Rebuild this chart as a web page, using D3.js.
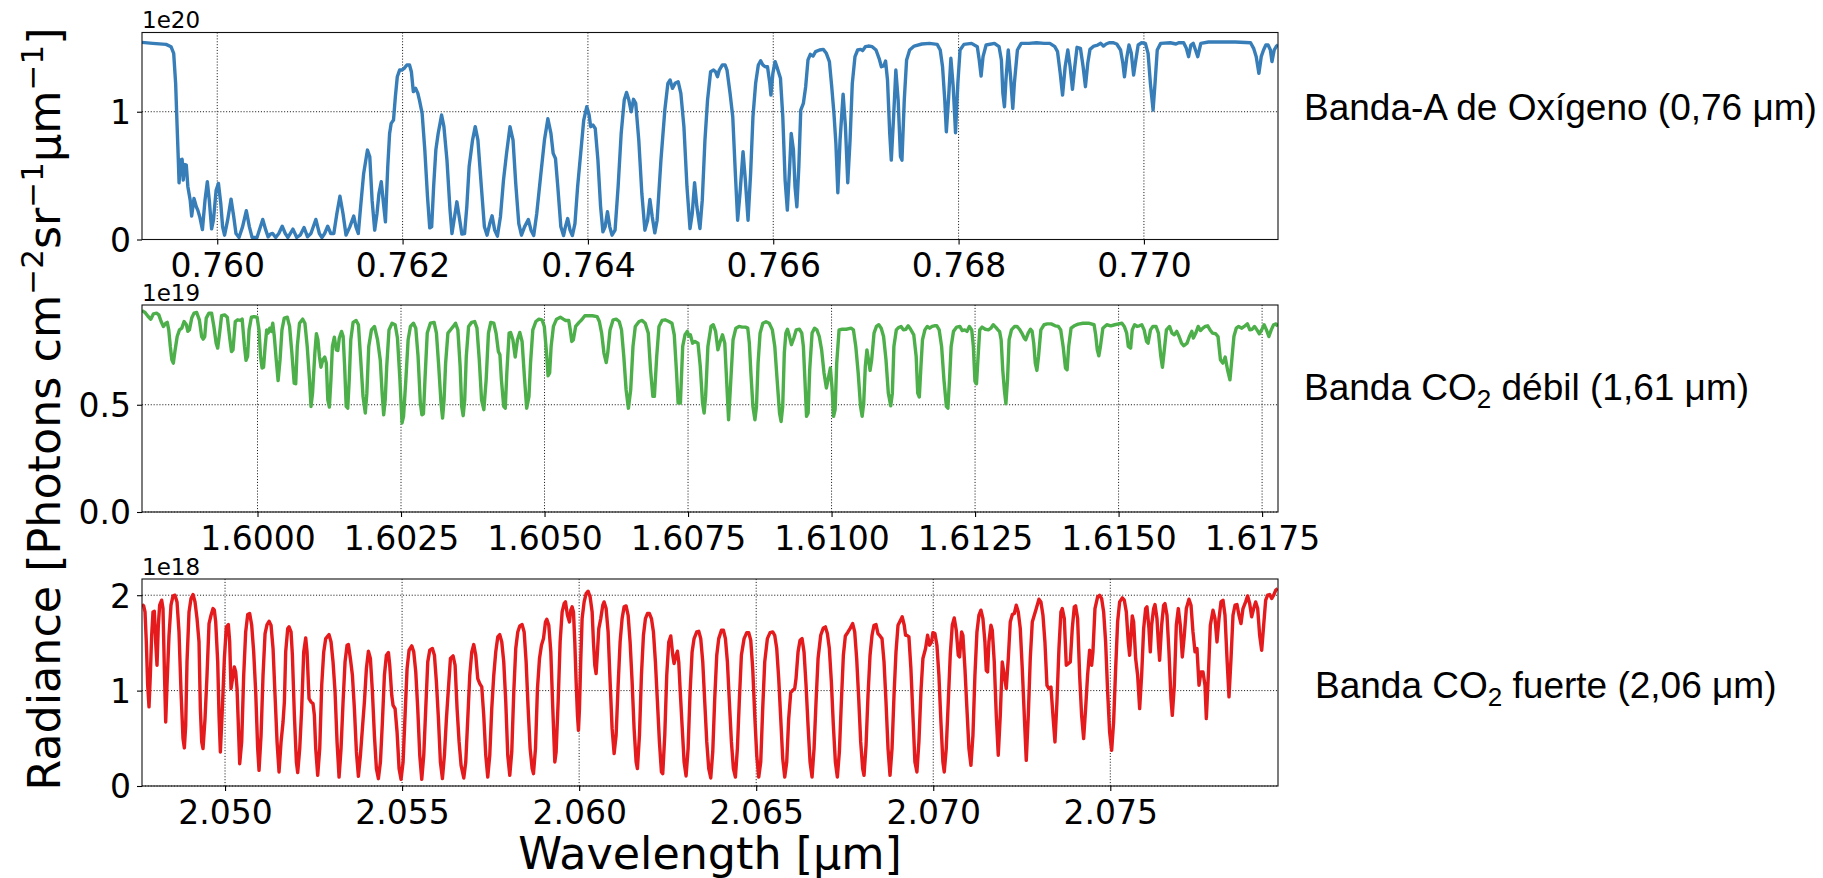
<!DOCTYPE html>
<html>
<head>
<meta charset="utf-8">
<script src="https://cdn.jsdelivr.net/npm/d3@7"></script>
<style>
  body { margin: 0; background: #fff; }
</style>
</head>
<body>
<script>
// Spectra: [wavelength (µm), radiance in units of the axis offset]
// O2 A-band, radiance x 1e20
var o2Band = [
[0.759188,1.543],[0.759303,1.535],[0.759448,1.527],[0.759501,1.509],[0.759530,1.457],[0.759551,1.222],[0.759567,0.883],[0.759580,0.621],[0.759588,0.444],[0.759604,0.621],
[0.759621,0.627],[0.759633,0.465],[0.759650,0.587],[0.759666,0.582],[0.759683,0.413],[0.759708,0.308],[0.759724,0.183],[0.759749,0.321],[0.759774,0.256],[0.759790,0.230],
[0.759811,0.178],[0.759840,0.078],[0.759868,0.308],[0.759893,0.452],[0.759914,0.308],[0.759939,0.084],[0.759959,0.151],[0.759988,0.386],[0.760013,0.439],[0.760038,0.282],
[0.760058,0.099],[0.760079,0.034],[0.760112,0.151],[0.760149,0.316],[0.760178,0.178],[0.760202,0.047],[0.760235,0.016],[0.760273,0.099],[0.760314,0.225],[0.760347,0.099],
[0.760376,0.016],[0.760429,0.016],[0.760491,0.157],[0.760524,0.073],[0.760549,0.021],[0.760574,0.042],[0.760598,0.047],[0.760631,0.016],[0.760664,0.047],[0.760701,0.104],
[0.760734,0.047],[0.760763,0.016],[0.760817,0.081],[0.760858,0.016],[0.760895,0.034],[0.760937,0.094],[0.760974,0.021],[0.761011,0.047],[0.761064,0.157],[0.761102,0.047],
[0.761130,0.016],[0.761159,0.047],[0.761192,0.104],[0.761225,0.047],[0.761258,0.047],[0.761291,0.204],[0.761324,0.339],[0.761357,0.204],[0.761390,0.034],[0.761431,0.099],
[0.761473,0.183],[0.761497,0.099],[0.761522,0.047],[0.761547,0.256],[0.761580,0.517],[0.761621,0.700],[0.761646,0.648],[0.761671,0.308],[0.761699,0.073],[0.761724,0.204],
[0.761745,0.360],[0.761770,0.452],[0.761794,0.282],[0.761815,0.138],[0.761840,0.569],[0.761860,0.830],[0.761877,0.909],[0.761902,0.935],[0.761922,1.117],[0.761943,1.274],
[0.761968,1.326],[0.761992,1.326],[0.762017,1.339],[0.762046,1.366],[0.762075,1.366],[0.762095,1.313],[0.762116,1.157],[0.762141,1.183],[0.762165,1.144],[0.762182,1.091],
[0.762211,0.987],[0.762240,0.700],[0.762269,0.334],[0.762293,0.091],[0.762314,0.099],[0.762335,0.413],[0.762359,0.700],[0.762384,0.830],[0.762421,0.974],[0.762446,0.883],
[0.762479,0.621],[0.762512,0.230],[0.762533,0.047],[0.762561,0.178],[0.762586,0.295],[0.762611,0.178],[0.762640,0.042],[0.762669,0.047],[0.762693,0.256],[0.762718,0.569],
[0.762755,0.778],[0.762784,0.883],[0.762813,0.778],[0.762850,0.413],[0.762883,0.099],[0.762912,0.034],[0.762941,0.125],[0.762966,0.185],[0.762994,0.073],[0.763023,0.026],
[0.763056,0.178],[0.763089,0.465],[0.763122,0.674],[0.763159,0.883],[0.763192,0.778],[0.763221,0.439],[0.763254,0.125],[0.763283,0.034],[0.763316,0.099],[0.763357,0.157],
[0.763386,0.073],[0.763415,0.031],[0.763448,0.204],[0.763489,0.491],[0.763531,0.778],[0.763568,0.945],[0.763601,0.830],[0.763625,0.674],[0.763650,0.634],[0.763675,0.413],
[0.763708,0.099],[0.763737,0.031],[0.763757,0.099],[0.763782,0.164],[0.763807,0.073],[0.763832,0.031],[0.763860,0.125],[0.763889,0.413],[0.763922,0.674],[0.763955,0.935],
[0.763988,1.039],[0.764013,0.974],[0.764030,0.883],[0.764054,0.896],[0.764079,0.869],[0.764108,0.621],[0.764137,0.256],[0.764162,0.060],[0.764186,0.099],[0.764211,0.217],
[0.764236,0.099],[0.764260,0.034],[0.764293,0.073],[0.764326,0.413],[0.764359,0.830],[0.764392,1.091],[0.764417,1.151],[0.764442,1.091],[0.764467,1.000],[0.764492,1.097],
[0.764516,1.065],[0.764549,0.778],[0.764582,0.360],[0.764615,0.073],[0.764644,0.151],[0.764669,0.313],[0.764694,0.178],[0.764722,0.052],[0.764747,0.151],[0.764788,0.621],
[0.764830,1.013],[0.764863,1.222],[0.764887,1.248],[0.764912,1.183],[0.764941,1.222],[0.764974,1.235],[0.765003,1.144],[0.765036,0.883],[0.765069,0.413],[0.765102,0.086],
[0.765126,0.204],[0.765151,0.444],[0.765176,0.256],[0.765209,0.086],[0.765234,0.308],[0.765263,0.778],[0.765291,1.091],[0.765324,1.313],
[0.765356,1.326],[0.765377,1.313],[0.765398,1.274],[0.765418,1.326],[0.765451,1.366],[0.765480,1.366],[0.765501,1.326],[0.765534,1.144],[0.765563,0.961],[0.765591,0.517],
[0.765616,0.151],[0.765641,0.360],[0.765674,0.687],[0.765699,0.465],[0.765728,0.151],[0.765756,0.517],[0.765781,0.961],[0.765810,1.222],[0.765839,1.366],[0.765864,1.399],
[0.765888,1.366],[0.765913,1.352],[0.765938,1.352],[0.765963,1.222],[0.765975,1.131],[0.765996,1.300],[0.766020,1.392],[0.766045,1.339],[0.766078,1.261],[0.766103,0.961],
[0.766128,0.465],[0.766152,0.230],[0.766177,0.569],[0.766194,0.830],[0.766218,0.700],[0.766235,0.413],[0.766255,0.256],[0.766276,0.569],[0.766297,1.013],[0.766325,1.065],
[0.766350,1.196],[0.766375,1.405],[0.766400,1.449],[0.766429,1.436],[0.766457,1.470],[0.766499,1.483],[0.766540,1.488],[0.766573,1.457],[0.766606,1.392],[0.766631,1.196],
[0.766655,0.987],[0.766676,0.752],[0.766697,0.366],[0.766721,0.778],[0.766754,1.138],[0.766779,0.883],[0.766804,0.444],[0.766829,0.778],[0.766853,1.222],[0.766882,1.431],
[0.766911,1.483],[0.766944,1.488],[0.766965,1.478],[0.766994,1.509],[0.767027,1.514],[0.767068,1.509],[0.767109,1.483],[0.767142,1.418],[0.767167,1.352],[0.767192,1.358],
[0.767212,1.397],[0.767233,1.248],[0.767257,0.830],[0.767274,0.621],[0.767299,0.961],[0.767323,1.326],[0.767348,1.091],[0.767373,0.648],[0.767389,0.621],[0.767414,1.091],
[0.767439,1.405],[0.767472,1.483],[0.767521,1.514],[0.767604,1.530],[0.767686,1.535],[0.767769,1.527],[0.767802,1.483],[0.767827,1.352],[0.767851,1.091],[0.767868,0.843],
[0.767893,1.117],[0.767917,1.418],[0.767942,1.196],[0.767967,0.836],[0.767992,1.222],[0.768016,1.483],[0.768058,1.527],[0.768140,1.535],[0.768202,1.509],[0.768223,1.405],
[0.768243,1.279],[0.768264,1.431],[0.768297,1.522],[0.768387,1.535],[0.768437,1.509],[0.768462,1.405],[0.768478,1.144],[0.768495,1.039],[0.768511,1.248],[0.768536,1.483],
[0.768561,1.274],[0.768585,1.026],[0.768602,1.222],[0.768635,1.483],[0.768676,1.535],[0.768759,1.535],[0.768841,1.540],[0.768924,1.535],[0.768985,1.535],[0.769039,1.509],
[0.769068,1.470],[0.769097,1.300],[0.769122,1.131],[0.769150,1.352],[0.769179,1.483],[0.769204,1.352],[0.769229,1.175],[0.769254,1.352],[0.769278,1.504],[0.769315,1.496],
[0.769344,1.352],[0.769369,1.196],[0.769394,1.379],[0.769418,1.488],[0.769460,1.514],[0.769501,1.522],[0.769534,1.535],[0.769563,1.514],[0.769592,1.530],[0.769625,1.540],
[0.769666,1.540],[0.769707,1.530],[0.769748,1.483],[0.769773,1.379],[0.769790,1.274],[0.769814,1.418],[0.769839,1.522],[0.769864,1.457],[0.769889,1.287],[0.769913,1.405],
[0.769938,1.522],[0.769975,1.540],[0.770016,1.535],[0.770045,1.457],[0.770070,1.222],[0.770099,1.013],[0.770120,1.222],[0.770144,1.483],[0.770181,1.535],[0.770285,1.540],
[0.770346,1.530],[0.770375,1.540],[0.770429,1.540],[0.770458,1.496],[0.770482,1.431],[0.770507,1.522],[0.770532,1.535],[0.770557,1.483],[0.770581,1.431],[0.770614,1.535],
[0.770697,1.546],[0.770821,1.546],[0.770986,1.546],[0.771151,1.540],[0.771184,1.496],[0.771212,1.431],[0.771241,1.300],[0.771266,1.431],[0.771291,1.483],[0.771316,1.522],
[0.771340,1.522],[0.771365,1.483],[0.771382,1.392],[0.771406,1.483],[0.771431,1.514],[0.771447,1.522]
];

// weak CO2 band, radiance x 1e19
var co2WeakBand = [
[1.597988,0.939],[1.598041,0.930],[1.598095,0.911],[1.598141,0.899],[1.598188,0.924],[1.598241,0.927],[1.598281,0.919],[1.598321,0.888],[1.598361,0.865],[1.598401,0.880],
[1.598428,0.884],[1.598454,0.849],[1.598481,0.772],[1.598508,0.710],[1.598534,0.694],[1.598561,0.748],[1.598601,0.818],[1.598641,0.849],[1.598681,0.857],[1.598721,0.888],
[1.598761,0.873],[1.598787,0.842],[1.598814,0.849],[1.598854,0.904],[1.598894,0.927],[1.598941,0.930],[1.598987,0.896],[1.599027,0.818],[1.599054,0.806],[1.599081,0.818],
[1.599107,0.904],[1.599154,0.927],[1.599200,0.927],[1.599240,0.865],[1.599280,0.787],[1.599307,0.764],[1.599340,0.834],[1.599374,0.915],[1.599427,0.919],[1.599474,0.908],
[1.599520,0.803],[1.599547,0.748],[1.599573,0.756],[1.599613,0.888],[1.599653,0.896],[1.599707,0.893],[1.599733,0.899],[1.599773,0.772],[1.599800,0.707],[1.599827,0.725],
[1.599853,0.849],[1.599893,0.908],[1.599940,0.911],[1.599993,0.908],[1.600026,0.849],[1.600053,0.725],[1.600080,0.671],[1.600106,0.675],[1.600133,0.772],[1.600160,0.849],
[1.600186,0.834],[1.600213,0.857],[1.600240,0.842],[1.600266,0.880],[1.600293,0.818],[1.600326,0.710],[1.600359,0.613],[1.600393,0.710],[1.600426,0.849],[1.600466,0.904],
[1.600519,0.908],[1.600559,0.865],[1.600599,0.741],[1.600639,0.601],[1.600666,0.598],[1.600693,0.772],[1.600732,0.880],[1.600786,0.899],[1.600826,0.880],[1.600866,0.772],
[1.600906,0.616],[1.600932,0.492],[1.600959,0.554],[1.600999,0.741],[1.601026,0.831],[1.601052,0.803],[1.601079,0.725],[1.601106,0.675],[1.601139,0.710],[1.601172,0.722],
[1.601199,0.694],[1.601225,0.523],[1.601252,0.489],[1.601279,0.616],[1.601305,0.772],[1.601339,0.815],[1.601372,0.756],[1.601399,0.753],[1.601425,0.811],[1.601465,0.842],
[1.601492,0.818],[1.601518,0.679],[1.601545,0.492],[1.601572,0.484],[1.601598,0.616],[1.601625,0.803],[1.601665,0.884],[1.601718,0.893],[1.601758,0.873],[1.601798,0.710],
[1.601838,0.539],[1.601878,0.461],[1.601905,0.554],[1.601938,0.772],[1.601985,0.849],[1.602038,0.865],[1.602091,0.803],[1.602138,0.710],[1.602171,0.554],[1.602198,0.453],
[1.602225,0.523],[1.602251,0.679],[1.602291,0.849],[1.602344,0.880],[1.602398,0.873],[1.602438,0.811],[1.602478,0.632],[1.602518,0.415],[1.602544,0.446],[1.602584,0.616],
[1.602624,0.803],[1.602664,0.865],[1.602717,0.880],[1.602757,0.857],[1.602797,0.725],[1.602837,0.508],[1.602864,0.453],[1.602891,0.458],[1.602917,0.616],[1.602957,0.834],
[1.603011,0.880],[1.603077,0.884],[1.603117,0.834],[1.603157,0.679],[1.603197,0.508],[1.603224,0.438],[1.603250,0.523],[1.603277,0.694],[1.603317,0.834],[1.603370,0.852],
[1.603410,0.865],[1.603450,0.880],[1.603490,0.849],[1.603530,0.679],[1.603557,0.492],[1.603583,0.449],[1.603610,0.523],[1.603637,0.725],[1.603677,0.865],[1.603730,0.884],
[1.603783,0.888],[1.603823,0.857],[1.603863,0.710],[1.603903,0.523],[1.603943,0.477],[1.603983,0.616],[1.604023,0.834],[1.604063,0.884],[1.604116,0.880],[1.604156,0.834],
[1.604196,0.748],[1.604223,0.733],[1.604249,0.616],[1.604289,0.492],[1.604316,0.484],[1.604343,0.648],[1.604383,0.834],[1.604409,0.837],[1.604449,0.803],[1.604489,0.722],
[1.604529,0.803],[1.604569,0.837],[1.604609,0.795],[1.604649,0.632],[1.604689,0.484],[1.604729,0.539],[1.604756,0.694],[1.604796,0.849],[1.604849,0.888],[1.604902,0.899],
[1.604956,0.896],[1.604996,0.865],[1.605035,0.741],[1.605062,0.635],[1.605089,0.648],[1.605115,0.772],[1.605155,0.865],[1.605209,0.899],[1.605275,0.908],[1.605329,0.899],
[1.605369,0.893],[1.605422,0.893],[1.605448,0.849],[1.605475,0.795],[1.605502,0.803],[1.605542,0.865],[1.605602,0.884],[1.605648,0.896],[1.605702,0.915],[1.605768,0.915],
[1.605835,0.915],[1.605915,0.911],[1.605955,0.888],[1.605995,0.834],[1.606035,0.741],[1.606075,0.697],[1.606101,0.741],[1.606141,0.849],[1.606195,0.896],[1.606248,0.899],
[1.606301,0.888],[1.606341,0.849],[1.606381,0.725],[1.606421,0.570],[1.606461,0.484],[1.606501,0.570],[1.606541,0.772],[1.606581,0.865],[1.606647,0.888],[1.606701,0.893],
[1.606754,0.880],[1.606807,0.834],[1.606847,0.663],[1.606887,0.539],[1.606914,0.539],[1.606954,0.725],[1.606994,0.865],[1.607047,0.893],[1.607100,0.896],[1.607167,0.888],
[1.607220,0.880],[1.607260,0.826],[1.607300,0.648],[1.607327,0.508],[1.607367,0.508],[1.607407,0.772],[1.607447,0.826],[1.607487,0.842],[1.607513,0.821],[1.607540,0.826],
[1.607580,0.787],[1.607620,0.795],[1.607673,0.787],[1.607713,0.679],[1.607753,0.508],[1.607780,0.461],[1.607806,0.539],[1.607846,0.772],[1.607900,0.865],[1.607940,0.873],
[1.607980,0.842],[1.608020,0.756],[1.608060,0.795],[1.608100,0.826],[1.608140,0.787],[1.608180,0.570],[1.608206,0.430],
[1.608236,0.570],[1.608284,0.803],[1.608333,0.857],[1.608388,0.865],[1.608443,0.862],[1.608499,0.862],[1.608540,0.857],[1.608568,0.787],[1.608595,0.648],[1.608630,0.492],
[1.608665,0.430],[1.608692,0.492],[1.608720,0.694],[1.608755,0.834],[1.608803,0.880],[1.608858,0.887],[1.608914,0.880],[1.608969,0.849],[1.609011,0.772],[1.609052,0.616],
[1.609094,0.461],[1.609121,0.422],[1.609149,0.492],[1.609177,0.741],[1.609204,0.834],[1.609232,0.852],[1.609260,0.826],[1.609301,0.780],[1.609343,0.811],[1.609384,0.849],
[1.609440,0.852],[1.609481,0.834],[1.609509,0.772],[1.609536,0.616],[1.609564,0.446],[1.609592,0.461],[1.609619,0.663],[1.609661,0.834],[1.609703,0.857],[1.609744,0.849],
[1.609786,0.818],[1.609827,0.756],[1.609869,0.648],[1.609910,0.578],[1.609938,0.616],[1.609979,0.671],[1.610007,0.585],[1.610035,0.446],[1.610062,0.477],[1.610090,0.694],
[1.610131,0.849],[1.610187,0.852],[1.610256,0.852],[1.610339,0.857],[1.610381,0.849],[1.610422,0.772],[1.610464,0.648],[1.610505,0.492],[1.610533,0.446],[1.610560,0.508],
[1.610588,0.679],[1.610616,0.756],[1.610643,0.710],[1.610671,0.660],[1.610699,0.710],[1.610740,0.834],[1.610782,0.865],[1.610823,0.873],[1.610865,0.857],[1.610906,0.818],
[1.610948,0.710],[1.610989,0.554],[1.611031,0.495],[1.611059,0.554],[1.611086,0.772],[1.611128,0.849],[1.611169,0.860],[1.611211,0.865],[1.611252,0.849],[1.611294,0.852],
[1.611335,0.868],[1.611377,0.852],[1.611432,0.826],[1.611474,0.725],[1.611501,0.554],[1.611529,0.536],[1.611557,0.679],[1.611584,0.803],[1.611626,0.849],[1.611667,0.865],
[1.611709,0.857],[1.611751,0.865],[1.611792,0.868],[1.611834,0.868],[1.611875,0.849],[1.611917,0.772],[1.611958,0.616],[1.612000,0.492],[1.612027,0.484],[1.612055,0.616],
[1.612083,0.772],[1.612124,0.842],[1.612180,0.862],[1.612235,0.865],[1.612276,0.846],[1.612318,0.849],[1.612359,0.842],[1.612401,0.865],[1.612442,0.849],[1.612470,0.772],
[1.612498,0.609],[1.612525,0.598],[1.612553,0.725],[1.612581,0.849],[1.612622,0.862],[1.612678,0.852],[1.612733,0.849],[1.612775,0.857],[1.612816,0.873],[1.612858,0.862],
[1.612899,0.849],[1.612927,0.842],[1.612954,0.803],[1.612982,0.663],[1.613010,0.570],[1.613037,0.505],[1.613065,0.616],[1.613093,0.803],[1.613134,0.849],[1.613190,0.865],
[1.613231,0.865],[1.613273,0.852],[1.613314,0.834],[1.613356,0.811],[1.613383,0.803],[1.613425,0.834],[1.613466,0.852],[1.613494,0.842],[1.613522,0.787],[1.613549,0.694],
[1.613577,0.660],[1.613605,0.725],[1.613646,0.849],[1.613702,0.873],[1.613757,0.877],[1.613826,0.877],[1.613895,0.868],[1.613951,0.865],[1.613992,0.849],[1.614034,0.772],
[1.614075,0.671],[1.614103,0.663],[1.614131,0.772],[1.614172,0.857],[1.614227,0.868],[1.614297,0.876],[1.614380,0.880],[1.614477,0.880],[1.614573,0.873],[1.614601,0.826],
[1.614629,0.756],[1.614656,0.728],[1.614684,0.772],[1.614726,0.857],[1.614795,0.873],[1.614864,0.868],[1.614933,0.873],[1.615002,0.877],[1.615058,0.880],[1.615099,0.865],
[1.615141,0.834],[1.615169,0.772],[1.615210,0.764],[1.615238,0.849],[1.615279,0.873],[1.615321,0.865],[1.615362,0.868],[1.615404,0.873],[1.615445,0.849],[1.615487,0.795],
[1.615514,0.787],[1.615556,0.849],[1.615597,0.865],[1.615653,0.865],[1.615694,0.834],[1.615736,0.725],[1.615764,0.675],[1.615791,0.741],[1.615833,0.849],[1.615888,0.865],
[1.615930,0.834],[1.615971,0.826],[1.616013,0.842],[1.616054,0.818],[1.616096,0.787],[1.616137,0.775],[1.616193,0.787],[1.616234,0.818],[1.616276,0.842],[1.616303,0.811],
[1.616345,0.834],[1.616386,0.865],[1.616428,0.846],[1.616469,0.857],[1.616511,0.865],[1.616552,0.868],[1.616594,0.849],[1.616635,0.834],[1.616691,0.831],[1.616732,0.818],
[1.616774,0.710],[1.616815,0.694],[1.616857,0.722],[1.616898,0.663],[1.616940,0.616],[1.616967,0.694],[1.617009,0.818],[1.617050,0.857],[1.617092,0.865],[1.617147,0.857],
[1.617189,0.865],[1.617244,0.877],[1.617286,0.849],[1.617327,0.852],[1.617369,0.865],[1.617410,0.849],[1.617452,0.831],[1.617493,0.849],[1.617535,0.873],[1.617576,0.849],
[1.617618,0.818],[1.617659,0.849],[1.617701,0.873],[1.617742,0.877],[1.617770,0.865]
];

// strong CO2 band, radiance x 1e18
var co2StrongBand = [
[2.047655,1.902],[2.047702,1.888],[2.047740,1.825],[2.047777,1.510],[2.047815,1.056],[2.047853,0.829],[2.047890,1.161],[2.047928,1.580],[2.047966,1.825],[2.048003,1.832],
[2.048041,1.510],[2.048079,1.266],[2.048116,1.685],[2.048154,1.895],[2.048211,1.948],[2.048248,1.860],[2.048286,1.231],[2.048324,0.671],[2.048361,1.056],[2.048418,1.580],
[2.048474,1.895],[2.048531,1.993],[2.048587,2.000],[2.048644,1.930],[2.048700,1.615],[2.048757,0.986],[2.048813,0.497],[2.048851,0.399],[2.048889,0.636],[2.048926,1.301],
[2.048983,1.825],[2.049039,1.965],[2.049096,2.007],[2.049152,1.930],[2.049209,1.755],[2.049265,1.510],[2.049303,0.811],[2.049341,0.462],[2.049378,0.392],[2.049435,0.706],
[2.049491,1.161],[2.049548,1.703],[2.049604,1.790],[2.049661,1.860],[2.049698,1.843],[2.049736,1.720],[2.049793,1.301],[2.049830,0.741],[2.049868,0.357],[2.049924,0.811],
[2.049981,1.336],[2.050037,1.668],[2.050094,1.692],[2.050131,1.510],[2.050169,1.021],[2.050226,1.161],[2.050263,1.248],[2.050301,1.196],[2.050339,1.021],[2.050376,0.636],
[2.050414,0.234],[2.050470,0.462],[2.050527,1.161],[2.050583,1.615],[2.050640,1.797],[2.050696,1.808],[2.050753,1.685],[2.050809,1.406],[2.050866,0.986],[2.050922,0.392],
[2.050960,0.164],[2.051017,0.531],[2.051073,1.161],[2.051130,1.598],[2.051186,1.692],[2.051243,1.727],[2.051299,1.685],[2.051356,1.441],[2.051412,0.951],[2.051469,0.462],
[2.051525,0.147],[2.051582,0.462],[2.051638,0.671],[2.051676,0.881],[2.051713,1.406],[2.051770,1.650],[2.051808,1.668],[2.051864,1.615],[2.051902,1.371],[2.051958,0.741],
[2.052015,0.252],[2.052052,0.140],[2.052109,0.392],[2.052165,0.811],[2.052222,1.406],[2.052278,1.552],[2.052316,1.406],[2.052372,0.916],[2.052429,0.881],[2.052485,0.864],
[2.052523,0.741],[2.052561,0.392],[2.052617,0.112],[2.052674,0.392],[2.052730,1.056],[2.052787,1.406],[2.052843,1.545],[2.052937,1.587],[2.052994,1.510],[2.053050,1.301],
[2.053107,0.986],[2.053163,0.462],[2.053220,0.094],[2.053276,0.392],[2.053333,0.881],[2.053389,1.301],[2.053446,1.476],[2.053484,1.483],[2.053540,1.336],[2.053597,1.161],
[2.053653,0.811],[2.053710,0.357],[2.053766,0.101],[2.053823,0.322],[2.053879,0.601],[2.053936,0.881],[2.053992,1.231],[2.054049,1.413],[2.054105,1.336],[2.054162,0.986],
[2.054218,0.531],[2.054275,0.182],[2.054331,0.077],[2.054388,0.252],[2.054444,0.671],[2.054501,1.161],[2.054557,1.371],[2.054614,1.399],[2.054651,1.266],[2.054708,0.951],
[2.054745,0.846],[2.054802,0.811],[2.054858,0.566],[2.054915,0.182],[2.054971,0.070],[2.055028,0.252],[2.055084,0.741],[2.055141,1.231],[2.055197,1.423],[2.055273,1.469],
[2.055329,1.406],[2.055386,1.196],[2.055442,0.811],[2.055499,0.322],[2.055555,0.070],[2.055612,0.322],[2.055668,0.811],[2.055725,1.301],[2.055781,1.423],[2.055856,1.441],
[2.055913,1.371],[2.055969,1.091],[2.056026,0.706],[2.056082,0.252],[2.056139,0.077],[2.056195,0.322],[2.056252,0.706],[2.056308,1.021],[2.056365,1.336],[2.056440,1.364],
[2.056497,1.266],[2.056553,0.811],[2.056610,0.462],[2.056666,0.217],[2.056742,0.084],[2.056798,0.252],[2.056855,0.706],[2.056911,1.161],[2.056968,1.406],[2.057024,1.483],
[2.057080,1.371],[2.057137,1.126],[2.057193,1.073],[2.057250,1.038],[2.057306,0.741],[2.057363,0.322],[2.057419,0.094],[2.057476,0.322],[2.057532,0.811],[2.057589,1.161],
[2.057645,1.406],[2.057702,1.563],[2.057758,1.587],[2.057815,1.510],[2.057871,1.301],[2.057928,0.881],[2.057984,0.322],[2.058041,0.112],[2.058097,0.357],[2.058154,0.986],
[2.058210,1.441],[2.058267,1.615],[2.058323,1.678],
[2.058390,1.692],[2.058447,1.615],[2.058503,1.301],[2.058560,0.811],[2.058616,0.392],[2.058673,0.182],[2.058710,0.129],[2.058767,0.392],[2.058823,1.021],[2.058880,1.336],
[2.058936,1.476],[2.058993,1.545],[2.059049,1.720],[2.059087,1.748],[2.059143,1.685],[2.059200,1.406],[2.059256,0.811],[2.059313,0.252],[2.059350,0.357],[2.059407,0.881],
[2.059463,1.510],[2.059520,1.825],[2.059576,1.913],[2.059614,1.930],[2.059670,1.790],[2.059727,1.720],[2.059764,1.843],[2.059802,1.878],[2.059840,1.825],[2.059877,1.510],
[2.059915,1.091],[2.059953,0.741],[2.059981,0.584],[2.060009,0.811],[2.060047,1.336],[2.060084,1.755],[2.060141,1.930],[2.060197,2.017],[2.060254,2.042],[2.060310,1.983],
[2.060367,1.825],[2.060404,1.510],[2.060442,1.266],[2.060479,1.178],[2.060517,1.406],[2.060555,1.650],[2.060611,1.755],[2.060668,1.895],[2.060705,1.930],[2.060762,1.860],
[2.060818,1.615],[2.060875,1.091],[2.060931,0.601],[2.060988,0.339],[2.061044,0.531],[2.061101,1.056],[2.061157,1.510],[2.061213,1.755],[2.061270,1.878],[2.061326,1.888],
[2.061383,1.790],[2.061439,1.510],[2.061496,1.091],[2.061552,0.601],[2.061609,0.252],[2.061646,0.182],[2.061703,0.531],[2.061759,1.161],[2.061816,1.580],[2.061872,1.755],
[2.061929,1.808],[2.061985,1.808],[2.062042,1.755],[2.062098,1.615],[2.062154,1.301],[2.062211,0.881],[2.062267,0.462],[2.062324,0.147],[2.062361,0.129],[2.062418,0.531],
[2.062474,1.161],[2.062531,1.510],[2.062587,1.573],[2.062644,1.371],[2.062681,1.283],[2.062738,1.371],[2.062776,1.413],[2.062813,1.301],[2.062851,1.021],[2.062907,0.636],
[2.062964,0.252],[2.063020,0.105],[2.063077,0.392],[2.063133,0.986],[2.063190,1.406],[2.063246,1.545],[2.063321,1.615],[2.063378,1.622],[2.063434,1.545],[2.063491,1.301],
[2.063547,0.881],[2.063604,0.462],[2.063660,0.182],[2.063717,0.084],[2.063773,0.357],[2.063829,0.916],[2.063886,1.371],[2.063942,1.545],[2.064018,1.633],[2.064074,1.633],
[2.064131,1.545],[2.064187,1.301],[2.064243,0.881],[2.064300,0.462],[2.064356,0.182],[2.064413,0.094],[2.064469,0.392],[2.064526,0.916],[2.064582,1.371],[2.064658,1.545],
[2.064733,1.608],[2.064789,1.608],[2.064846,1.528],[2.064902,1.231],[2.064959,0.741],[2.065015,0.322],[2.065072,0.094],[2.065128,0.252],[2.065184,0.811],[2.065241,1.301],
[2.065316,1.545],[2.065392,1.608],[2.065467,1.615],[2.065523,1.580],[2.065580,1.441],[2.065636,1.126],[2.065693,0.706],[2.065749,0.287],[2.065806,0.094],[2.065862,0.252],
[2.065918,0.706],[2.065975,0.979],[2.066031,1.003],[2.066088,1.021],[2.066125,1.126],[2.066182,1.406],[2.066238,1.528],[2.066295,1.545],[2.066351,1.406],[2.066408,1.056],
[2.066464,0.636],[2.066521,0.252],[2.066577,0.094],[2.066634,0.392],[2.066690,0.881],[2.066747,1.336],[2.066822,1.580],[2.066897,1.657],[2.066954,1.668],[2.067010,1.598],
[2.067066,1.441],[2.067123,1.091],[2.067179,0.636],[2.067236,0.252],[2.067292,0.094],[2.067349,0.357],[2.067405,0.881],[2.067462,1.371],[2.067518,1.573],[2.067593,1.615],
[2.067650,1.650],[2.067725,1.703],[2.067782,1.615],[2.067838,1.336],[2.067895,0.916],[2.067951,0.462],[2.068007,0.182],[2.068045,0.112],[2.068102,0.427],[2.068158,0.951],
[2.068215,1.371],[2.068271,1.580],[2.068327,1.685],[2.068384,1.692],[2.068440,1.598],[2.068497,1.573],[2.068553,1.545],[2.068610,1.301],[2.068666,0.881],[2.068723,0.392],
[2.068779,0.112],[2.068836,0.392],[2.068892,0.951],[2.068948,1.406],[2.069005,1.685],
[2.069124,1.773],[2.069181,1.685],[2.069218,1.580],[2.069256,1.580],[2.069313,1.563],[2.069369,1.231],[2.069426,0.741],[2.069482,0.252],[2.069539,0.147],[2.069595,0.462],
[2.069652,0.986],[2.069708,1.336],[2.069783,1.441],[2.069840,1.580],[2.069896,1.476],[2.069953,1.510],[2.069991,1.608],[2.070047,1.598],[2.070104,1.476],[2.070160,1.161],
[2.070217,0.671],[2.070273,0.252],[2.070311,0.147],[2.070367,0.392],[2.070424,0.881],[2.070480,1.371],[2.070537,1.685],[2.070593,1.762],[2.070650,1.633],[2.070706,1.371],
[2.070744,1.353],[2.070800,1.615],[2.070838,1.580],[2.070895,1.231],[2.070951,0.811],[2.071008,0.392],[2.071064,0.217],[2.071121,0.531],[2.071177,1.161],[2.071234,1.615],
[2.071290,1.790],[2.071347,1.843],[2.071403,1.755],[2.071459,1.510],[2.071497,1.213],[2.071535,1.196],[2.071572,1.510],[2.071629,1.685],[2.071667,1.633],[2.071723,1.301],
[2.071780,0.741],[2.071836,0.322],[2.071893,0.741],[2.071949,1.301],[2.072006,1.161],[2.072062,1.021],[2.072119,1.336],[2.072175,1.720],[2.072232,1.797],[2.072288,1.808],
[2.072345,1.895],[2.072401,1.825],[2.072458,1.650],[2.072514,1.231],[2.072571,0.741],[2.072627,0.269],[2.072684,0.741],[2.072740,1.336],[2.072797,1.720],[2.072853,1.790],
[2.072910,1.860],[2.072985,1.958],[2.073041,1.930],[2.073098,1.790],[2.073154,1.510],[2.073211,1.056],[2.073267,1.021],[2.073324,1.038],[2.073380,0.741],[2.073437,0.462],
[2.073493,0.881],[2.073550,1.441],[2.073606,1.825],[2.073644,1.860],[2.073701,1.755],[2.073757,1.266],[2.073813,1.283],[2.073870,1.301],[2.073926,1.650],[2.073983,1.878],
[2.074021,1.888],[2.074077,1.755],[2.074134,1.161],[2.074190,0.741],[2.074247,0.497],[2.074303,0.811],[2.074359,1.161],[2.074416,1.423],[2.074473,1.266],[2.074510,1.406],
[2.074567,1.860],[2.074642,1.983],[2.074699,2.000],[2.074755,1.965],[2.074812,1.825],[2.074868,1.510],[2.074925,0.986],[2.074981,0.566],[2.075038,0.374],[2.075094,0.671],
[2.075151,1.231],[2.075207,1.720],[2.075264,1.930],[2.075339,1.972],[2.075395,1.948],[2.075452,1.825],[2.075508,1.510],[2.075546,1.371],[2.075584,1.580],[2.075621,1.783],
[2.075659,1.720],[2.075716,1.336],[2.075772,1.161],[2.075829,0.811],[2.075885,1.161],[2.075942,1.650],[2.075998,1.860],[2.076036,1.878],[2.076092,1.650],[2.076130,1.406],
[2.076167,1.685],[2.076224,1.860],[2.076262,1.902],[2.076318,1.755],[2.076356,1.510],[2.076393,1.318],[2.076450,1.685],[2.076506,1.895],[2.076544,1.913],[2.076601,1.790],
[2.076657,1.406],[2.076714,0.916],[2.076751,0.741],[2.076808,1.056],[2.076864,1.685],[2.076921,1.860],[2.076977,1.685],[2.077034,1.353],[2.077090,1.580],[2.077147,1.860],
[2.077222,1.958],[2.077279,1.895],[2.077335,1.615],[2.077392,1.406],[2.077448,1.441],[2.077505,1.056],[2.077561,1.196],[2.077618,1.196],[2.077674,1.056],[2.077712,0.706],
[2.077769,1.161],[2.077825,1.685],[2.077900,1.843],[2.077957,1.755],[2.078013,1.510],[2.078070,1.755],[2.078126,1.930],[2.078183,1.948],[2.078239,1.790],[2.078296,1.336],
[2.078352,0.934],[2.078409,1.336],[2.078465,1.790],[2.078522,1.895],[2.078578,1.902],[2.078634,1.790],[2.078691,1.703],[2.078747,1.860],[2.078822,1.930],[2.078879,1.993],
[2.078936,1.913],[2.078992,1.773],[2.079049,1.860],[2.079105,1.930],[2.079162,1.860],[2.079218,1.580],[2.079275,1.423],[2.079331,1.685],[2.079388,1.948],[2.079444,2.000],
[2.079501,2.007],[2.079557,1.965],[2.079614,2.000],[2.079670,2.052],[2.079727,2.070]
];

// axis limits and ticks
var o2XRange = [0.759188, 0.771447];
var co2WeakXRange = [1.597988, 1.617777];
var co2StrongXRange = [2.047655, 2.079736];
var o2YMax = 1.62, co2WeakYMax = 0.965, co2StrongYMax = 2.17;

var o2XTicks = [0.760, 0.762, 0.764, 0.766, 0.768, 0.770];
var co2WeakXTicks = [1.6000, 1.6025, 1.6050, 1.6075, 1.6100, 1.6125, 1.6150, 1.6175];
var co2StrongXTicks = [2.050, 2.055, 2.060, 2.065, 2.070, 2.075];
var o2YTicks = [0, 1];
var co2WeakYTicks = [0, 0.5];
var co2StrongYTicks = [0, 1, 2];

var offsetLabels = ["1e20", "1e19", "1e18"];
// band names: [text before subscript, subscript, text after]
var bandNames = [
  ["Banda-A de Oxígeno (0,76 μm)", "", ""],
  ["Banda CO", "2", " débil (1,61 μm)"],
  ["Banda CO", "2", " fuerte (2,06 μm)"]
];

// Define SVG area dimensions
var svgWidth = 1823;
var svgHeight = 878;
var margin = { left: 142, right: 545 };
var width = svgWidth - margin.left - margin.right;
var panelHeight = 207;
var panelTops = [32.5, 305, 579];

var tickFont = "DejaVu Sans";
var labelFont = "Liberation Sans, Arial, sans-serif";

var svg = d3.select("body")
  .append("svg")
  .attr("width", svgWidth)
  .attr("height", svgHeight);

var panels = [
  { data: o2Band, xRange: o2XRange, yMax: o2YMax, xTicks: o2XTicks, yTicks: o2YTicks,
    xFormat: ".3f", yFormat: "d", color: "#377eb8", nameX: 1304, nameY: 119.5 },
  { data: co2WeakBand, xRange: co2WeakXRange, yMax: co2WeakYMax, xTicks: co2WeakXTicks, yTicks: co2WeakYTicks,
    xFormat: ".4f", yFormat: ".1f", color: "#4daf4a", nameX: 1304, nameY: 400 },
  { data: co2StrongBand, xRange: co2StrongXRange, yMax: co2StrongYMax, xTicks: co2StrongXTicks, yTicks: co2StrongYTicks,
    xFormat: ".3f", yFormat: "d", color: "#e41a1c", nameX: 1315, nameY: 697.5 }
];

panels.forEach(function(p, i) {
  var g = svg.append("g")
    .attr("transform", `translate(${margin.left}, ${panelTops[i]})`);

  var x = d3.scaleLinear().domain(p.xRange).range([0, width]);
  var y = d3.scaleLinear().domain([0, p.yMax]).range([panelHeight, 0]);

  // dotted grid
  var grid = g.append("g")
    .attr("stroke", "#222")
    .attr("stroke-width", 1)
    .attr("stroke-dasharray", "1.1,1.8");
  grid.selectAll(".vx").data(p.xTicks).enter().append("line")
    .attr("x1", d => x(d)).attr("x2", d => x(d))
    .attr("y1", 0).attr("y2", panelHeight);
  grid.selectAll(".hy").data(p.yTicks).enter().append("line")
    .attr("x1", 0).attr("x2", width)
    .attr("y1", d => y(d)).attr("y2", d => y(d));

  svg.append("clipPath").attr("id", "clip" + i)
    .append("rect").attr("width", width).attr("height", panelHeight);

  var line = d3.line()
    .x(d => x(d[0]))
    .y(d => y(d[1]));

  g.append("path")
    .datum(p.data)
    .attr("clip-path", `url(#clip${i})`)
    .attr("fill", "none")
    .attr("stroke", p.color)
    .attr("stroke-width", 3.4)
    .attr("stroke-linejoin", "round")
    .attr("d", line);

  // frame
  g.append("rect")
    .attr("width", width)
    .attr("height", panelHeight)
    .attr("fill", "none")
    .attr("stroke", "#111")
    .attr("stroke-width", 1.1);

  var bottomAxis = d3.axisBottom(x)
    .tickValues(p.xTicks)
    .tickFormat(d3.format(p.xFormat))
    .tickSize(5).tickPadding(9.3).tickSizeOuter(0);
  var xg = g.append("g")
    .attr("transform", `translate(0,${panelHeight})`)
    .call(bottomAxis);
  xg.select(".domain").remove();
  xg.attr("font-family", tickFont).attr("font-size", 33);
  xg.selectAll("line").attr("stroke-width", 1.1);

  var leftAxis = d3.axisLeft(y)
    .tickValues(p.yTicks)
    .tickFormat(d3.format(p.yFormat))
    .tickSize(5).tickPadding(6).tickSizeOuter(0);
  var yg = g.append("g").call(leftAxis);
  yg.select(".domain").remove();
  yg.attr("font-family", tickFont).attr("font-size", 33);
  yg.selectAll("line").attr("stroke-width", 1.1);
  yg.selectAll("text").attr("dy", "0.36em");

  // scale offset text
  g.append("text")
    .attr("x", 0)
    .attr("y", -4.5)
    .attr("font-family", tickFont)
    .attr("font-size", 23)
    .text(offsetLabels[i]);

  // band name on the right
  var name = svg.append("text")
    .attr("x", p.nameX)
    .attr("y", p.nameY)
    .attr("font-family", labelFont)
    .attr("font-size", 37);
  name.append("tspan").text(bandNames[i][0]);
  if (bandNames[i][1]) {
    name.append("tspan").attr("dy", 8).attr("font-size", 26).text(bandNames[i][1]);
    name.append("tspan").attr("dy", -8).text(bandNames[i][2]);
  }
});

// x axis title
svg.append("text")
  .attr("x", margin.left + width / 2)
  .attr("y", 869)
  .attr("text-anchor", "middle")
  .attr("font-family", tickFont)
  .attr("font-size", 44.4)
  .text("Wavelength [μm]");

// y axis title with superscripts
var yTitle = svg.append("text")
  .attr("transform", "translate(59.5,409) rotate(-90)")
  .attr("text-anchor", "middle")
  .attr("font-family", tickFont)
  .attr("font-size", 44.4);
var titleParts = [["Radiance [Photons cm", false], ["−2", true], ["sr", false], ["−1", true],
                  ["μm", false], ["−1", true], ["]", false]];
var raised = false;
titleParts.forEach(function(t) {
  var ts = yTitle.append("tspan").text(t[0]);
  if (t[1] && !raised) { ts.attr("dy", -17).attr("font-size", 31); raised = true; }
  else if (t[1]) { ts.attr("font-size", 31); }
  else if (raised) { ts.attr("dy", 17); raised = false; }
});
</script>
</body>
</html>
